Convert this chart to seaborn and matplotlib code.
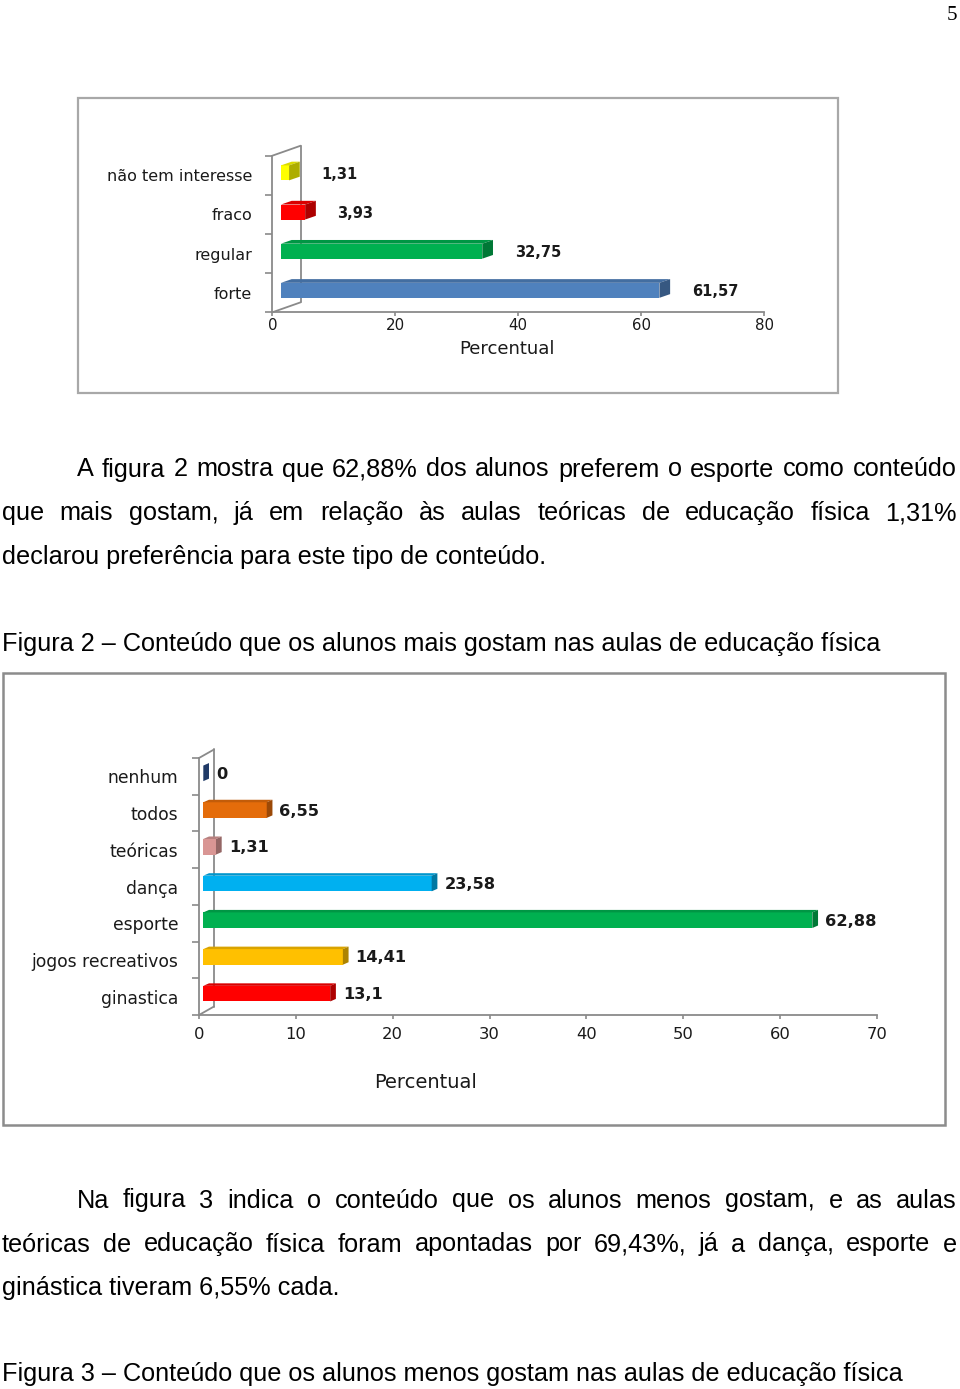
import matplotlib
matplotlib.use("Agg")
import matplotlib.pyplot as plt
import matplotlib.colors as mcolors
from matplotlib.patches import Polygon, Rectangle
from matplotlib.lines import Line2D
import numpy as np
import pandas as pd
import seaborn as sns

# ---------------- data ----------------
chart1_categories = ["não tem interesse", "fraco", "regular", "forte"]
chart1_values = [1.31, 3.93, 32.75, 61.57]
chart1_value_labels = ["1,31", "3,93", "32,75", "61,57"]
chart1_colors = ["#FFFF00", "#FF0000", "#00B050", "#4F81BD"]
chart1_xticks = [0, 20, 40, 60, 80]

chart2_categories = ["nenhum", "todos", "teóricas", "dança", "esporte",
                     "jogos recreativos", "ginastica"]
chart2_values = [0, 6.55, 1.31, 23.58, 62.88, 14.41, 13.1]
chart2_value_labels = ["0", "6,55", "1,31", "23,58", "62,88", "14,41", "13,1"]
chart2_colors = ["#2F5597", "#E46C0A", "#D99694", "#00B0F0", "#00B050",
                 "#FFC000", "#FF0000"]
chart2_xticks = [0, 10, 20, 30, 40, 50, 60, 70]

axis_title = "Percentual"
page_number = "5"
paragraph1 = ["A figura 2 mostra que 62,88% dos alunos preferem o esporte como conteúdo",
              "que mais gostam, já em relação às aulas teóricas de educação física 1,31%",
              "declarou preferência para este tipo de conteúdo."]
caption2 = "Figura 2 – Conteúdo que os alunos mais gostam nas aulas de educação física"
paragraph2 = ["Na figura 3 indica o conteúdo que os alunos menos gostam, e as aulas",
              "teóricas de educação física foram apontadas por 69,43%, já a dança, esporte e",
              "ginástica tiveram 6,55% cada."]
caption3 = "Figura 3 – Conteúdo que os alunos menos gostam nas aulas de educação física"

# ---------------- setup ----------------
sns.set_style("white")
plt.rcParams["font.family"] = ["DejaVu Sans"]

FW, FH, DPI = 960, 1389, 100
fig = plt.figure(figsize=(FW / DPI, FH / DPI), dpi=DPI)
fig.patch.set_facecolor("white")
AXIS_GRAY = "#8a8a8a"
TXT = "#1a1a1a"


def fx(px):
    return px / FW


def fy(py):
    return 1 - py / FH


def shade(c, f):
    r, g, b = mcolors.to_rgb(c)
    return (r * f, g * f, b * f)


def draw_chart(rect_px, cats, vals, labels, colors, xticks, cfg):
    x0, y_top, x1, y_bot = rect_px
    W, H = x1 - x0, y_bot - y_top
    ax = fig.add_axes([fx(x0), fy(y_bot), W / FW, H / FH])
    df = pd.DataFrame({"categoria": cats, "percentual": vals})
    sns.barplot(data=df, x="percentual", y="categoria", hue="categoria",
                order=cats, hue_order=cats, palette=colors, orient="h",
                width=cfg["bar_w"], saturation=1, legend=False, ax=ax,
                linewidth=0, edgecolor="none", zorder=3)
    n = len(cats)
    xmax = xticks[-1]
    ax.set_xlim(0, xmax)
    ax.set_ylim(n - 0.5, -0.5)
    ux, uy = xmax / W, n / H

    # pseudo-3D faces
    for p in list(ax.patches):
        yc = p.get_y() + p.get_height() / 2
        i = int(round(yc))
        col = colors[i]
        p.set_x(p.get_x() + cfg["bar_dx"] * ux)
        p.set_y(p.get_y() - cfg["bar_dy"] * uy)
        bx0 = p.get_x()
        bx1 = bx0 + p.get_width()
        yt = p.get_y()
        yb = yt + p.get_height()
        sx, sy = cfg["side_dx"] * ux, cfg["side_dy"] * uy
        top = Polygon([(bx0, yt), (bx0 + sx, yt - sy), (bx1 + sx, yt - sy), (bx1, yt)],
                      closed=True, facecolor=shade(col, 0.85), edgecolor="none", zorder=3)
        side = Polygon([(bx1, yb), (bx1 + sx, yb - sy), (bx1 + sx, yt - sy), (bx1, yt)],
                       closed=True, facecolor=shade(col, 0.68), edgecolor="none", zorder=3)
        ax.add_patch(top)
        ax.add_patch(side)

    # value labels
    for i, (v, lab) in enumerate(zip(vals, labels)):
        ax.text(v + cfg["lab_dx"] * ux, i + cfg["lab_dy"] * uy, lab,
                ha="left", va="center", fontsize=cfg["val_fs"],
                fontweight="bold", color=TXT, zorder=5)

    # spines
    for s in ["top", "right"]:
        ax.spines[s].set_visible(False)
    for s in ["left", "bottom"]:
        ax.spines[s].set_color(AXIS_GRAY)
        ax.spines[s].set_linewidth(1.3)

    # back wall of the 3D frame
    wdx, wdy = cfg["wall_dx"] / W, cfg["wall_dy"] / H
    for xs, ys in [([wdx, wdx], [wdy, 1 + wdy]), ([0, wdx], [1, 1 + wdy]), ([0, wdx], [0, wdy])]:
        ax.add_line(Line2D(xs, ys, transform=ax.transAxes, color=AXIS_GRAY,
                           lw=1.3, clip_on=False, zorder=1))

    # ticks
    ax.set_yticks(range(n))
    ax.set_yticklabels(cats)
    ax.set_yticks(np.arange(n + 1) - 0.5, minor=True)
    ax.tick_params(axis="y", which="major", left=True, length=0,
                   pad=cfg["ypad"], labelsize=cfg["cat_fs"], labelcolor=TXT)
    ax.tick_params(axis="y", which="minor", left=True, length=cfg["ytick_len"],
                   width=1.2, color=AXIS_GRAY, direction="out")
    ax.set_xticks(xticks)
    ax.set_xticklabels([str(t) for t in xticks])
    ax.tick_params(axis="x", which="major", bottom=True, length=cfg["xtick_len"],
                   width=1.2, color=AXIS_GRAY, direction="out", pad=cfg["xpad"],
                   labelsize=cfg["tick_fs"], labelcolor=TXT)
    ax.set_ylabel("")
    ax.set_xlabel(axis_title, fontsize=cfg["title_fs"], color=TXT)
    ax.xaxis.set_label_coords(cfg["xlab_x"], cfg["xlab_y"])
    ax.xaxis.label.set_va("center")
    ax.set_facecolor("none")
    return ax


# ---------------- chart 1 (top) ----------------
fig.add_artist(Rectangle((fx(77.5), fy(393)), (838 - 77.5) / FW, (393 - 97.5) / FH,
                         transform=fig.transFigure, fill=False,
                         edgecolor="#a8a8a8", lw=1.6))
cfg1 = dict(bar_w=0.383, bar_dx=8.7, bar_dy=2.4, side_dx=10.7, side_dy=3.7,
            wall_dx=28.4, wall_dy=10.0, lab_dx=41, lab_dy=-1,
            val_fs=10.5, cat_fs=11.5, tick_fs=10.8, title_fs=13,
            ypad=14.4, ytick_len=4.8, xtick_len=2.6, xpad=1.5,
            xlab_x=(507 - 272.3) / (764 - 272.3), xlab_y=(312.3 - 349) / (312.3 - 155.7))
draw_chart((272.3, 155.7, 764, 312.3), chart1_categories, chart1_values,
           chart1_value_labels, chart1_colors, chart1_xticks, cfg1)

# ---------------- chart 2 (bottom) ----------------
fig.add_artist(Rectangle((fx(3.3), fy(1125)), (945 - 3.3) / FW, (1125 - 673) / FH,
                         transform=fig.transFigure, fill=False,
                         edgecolor="#8c8c8c", lw=1.8))
cfg2 = dict(bar_w=0.425, bar_dx=4.3, bar_dy=3.0, side_dx=5.7, side_dy=2.5,
            wall_dx=15, wall_dy=8.5, lab_dx=17, lab_dy=-2,
            val_fs=11.7, cat_fs=12.3, tick_fs=11.8, title_fs=14,
            ypad=15, ytick_len=4.8, xtick_len=3.0, xpad=5.5,
            xlab_x=(426 - 199) / (877 - 199), xlab_y=(1015 - 1082) / (1015 - 758))
draw_chart((199, 758, 877, 1015), chart2_categories, chart2_values,
           chart2_value_labels, chart2_colors, chart2_xticks, cfg2)

# ---------------- document text ----------------
BODY_FONT = ["Liberation Sans", "DejaVu Sans"]
BODY_FS = 18.2
renderer = fig.canvas.get_renderer()


def plain_line(text, x_px, base_px):
    fig.text(fx(x_px), fy(base_px), text, ha="left", va="baseline",
             fontsize=BODY_FS, family=BODY_FONT, color="black")


def justified_line(text, x0_px, x1_px, base_px):
    words = text.split(" ")
    ts = [fig.text(0, 0, w, ha="left", va="baseline", fontsize=BODY_FS,
                   family=BODY_FONT, color="black") for w in words]
    widths = [t.get_window_extent(renderer).width for t in ts]
    gap = (x1_px - x0_px - sum(widths)) / max(len(words) - 1, 1)
    x = x0_px
    for t, w in zip(ts, widths):
        t.set_position((fx(x), fy(base_px)))
        x += w + gap


fig.text(fx(957), fy(20), page_number, ha="right", va="baseline",
         fontsize=15, family=["Liberation Serif", "DejaVu Serif"], color="black")

justified_line(paragraph1[0], 76.5, 957, 476.5)
justified_line(paragraph1[1], 2, 957, 520.5)
plain_line(paragraph1[2], 2, 563.5)
plain_line(caption2, 2, 650.5)
justified_line(paragraph2[0], 76.5, 957, 1207.5)
justified_line(paragraph2[1], 2, 957, 1251.5)
plain_line(paragraph2[2], 2, 1294.5)
plain_line(caption3, 2, 1381.5)

fig.savefig("out.png", dpi=DPI, facecolor="white")
